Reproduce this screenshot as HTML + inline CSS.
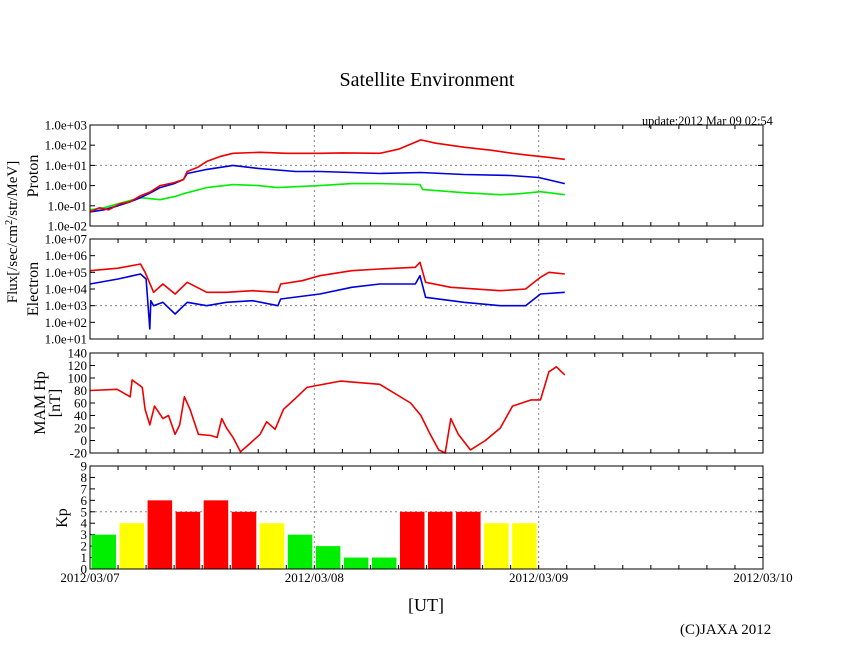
<!DOCTYPE html>
<html><head><meta charset="utf-8">
<style>
html,body{margin:0;padding:0;background:#fff;}
svg{display:block;font-family:"Liberation Serif",serif;}
</style></head>
<body>
<svg id="c" width="846" height="655" viewBox="0 0 846 655" xmlns="http://www.w3.org/2000/svg">
<text x="427" y="86" font-size="20" text-anchor="middle">Satellite Environment</text>
<text x="642" y="125" font-size="12.3">update:2012 Mar 09 02:54</text>
<text transform="translate(17,232) rotate(-90)" font-size="15" text-anchor="middle">Flux[/sec/cm<tspan font-size="10" dy="-5">2</tspan><tspan dy="5">/str/MeV]</tspan></text>
<text transform="translate(38,176) rotate(-90)" font-size="16" text-anchor="middle">Proton</text>
<text transform="translate(38,289) rotate(-90)" font-size="16" text-anchor="middle">Electron</text>
<text transform="translate(45,403) rotate(-90)" font-size="16" text-anchor="middle">MAM Hp</text>
<text transform="translate(60,403) rotate(-90)" font-size="16" text-anchor="middle">[nT]</text>
<text transform="translate(67,518) rotate(-90)" font-size="16" text-anchor="middle">Kp</text>
<text x="426" y="611" font-size="18" text-anchor="middle">[UT]</text>
<text x="680" y="634" font-size="15">(C)JAXA 2012</text>
</svg>
<script>
// ---- data (hours since 2012/03/07 00:00) ----
const protonRedT=[0,1,2,3.2,4.3,5.4,6.5,7.5,9,10,10.4,11.5,12.5,14,15.3,18.2,21,24.6,27,31,33,35.4,37,40,43,45.2,47,49,50.8];
const protonRedV=[-1.3,-1.1,-1.2,-0.9,-0.8,-0.5,-0.3,0,0.15,0.3,0.7,0.9,1.2,1.45,1.6,1.65,1.6,1.6,1.62,1.6,1.8,2.26,2.1,1.9,1.75,1.6,1.5,1.4,1.3];
const protonBlueT=[0,1.5,3,4.3,5.4,6.5,7.5,9,10,10.4,12.5,15.3,18,22,24.6,28,31,35.4,40,45,48,50.8];
const protonBlueV=[-1.3,-1.2,-1.0,-0.8,-0.6,-0.35,-0.1,0.1,0.3,0.6,0.8,1.0,0.85,0.7,0.7,0.65,0.6,0.65,0.55,0.5,0.4,0.1];
const protonGreenT=[0,1.5,3,5.4,6.5,7.5,9,10,12.5,15.3,18,20,24.6,28,31,35.3,35.6,40,43.9,46,48.2,50.8];
const protonGreenV=[-1.2,-1.1,-0.9,-0.6,-0.65,-0.7,-0.55,-0.4,-0.1,0.05,0,-0.1,0,0.1,0.1,0.05,-0.2,-0.35,-0.45,-0.4,-0.3,-0.45];
const electronRedT=[0,3,5.4,5.9,6.8,7.8,9.1,10.4,12.5,14.6,17.4,20.1,20.4,22.7,24.6,28,31,34.8,35.3,35.9,38.6,43.9,46.6,48.2,49.1,50.8];
const electronRedV=[5.1,5.25,5.5,5.0,3.8,4.3,3.7,4.4,3.8,3.8,3.9,3.8,4.3,4.5,4.8,5.1,5.2,5.3,5.6,4.4,4.1,3.9,4.0,4.7,5.0,4.9];
const electronBlueT=[0,3,5.4,6.0,6.4,6.5,6.8,7.8,9.1,10.4,12.5,14.6,17.4,20.1,20.4,24.6,28,31,34.8,35.3,35.9,40,43.9,46.6,48.2,50.8];
const electronBlueV=[4.3,4.6,4.9,4.6,1.6,3.3,3.0,3.2,2.5,3.2,3.0,3.2,3.3,3.0,3.4,3.7,4.1,4.3,4.3,4.8,3.5,3.2,3.0,3.0,3.7,3.8];
const mamT=[0,2.9,4.3,4.5,5.6,5.9,6.4,6.9,7.8,8.4,9.1,9.6,10.1,10.7,11.6,12.9,13.6,14.1,14.6,15.3,16.1,17.1,18.2,18.9,19.8,20.7,21.8,23.2,26.8,31,34.3,35.4,36.4,37.3,38,38.6,39.4,40.7,42.3,43.9,45.2,47.2,48.2,49.1,49.9,50.8];
const mamV=[80,82,70,97,85,50,25,55,35,40,10,25,70,50,10,8,5,35,20,5,-18,-5,10,30,18,50,65,85,95,90,60,40,10,-15,-20,35,10,-15,0,20,55,65,65,110,118,105];
const kpValues=[3,4,6,5,6,5,4,3,2,1,1,5,5,5,4,4];
const dayLabels=["2012/03/07","2012/03/08","2012/03/09","2012/03/10"];
const protonTicks=["1.0e-02","1.0e-01","1.0e+00","1.0e+01","1.0e+02","1.0e+03"];
const electronTicks=["1.0e+01","1.0e+02","1.0e+03","1.0e+04","1.0e+05","1.0e+06","1.0e+07"];
const mamTicks=["-20","0","20","40","60","80","100","120","140"];
const kpTicks=["0","1","2","3","4","5","6","7","8","9"];

const NS="http://www.w3.org/2000/svg";
const svg=document.getElementById('c');
const X0=90,X1=763,HOURS=72;
const x=h=>X0+(X1-X0)*h/HOURS;
function el(tag,a,parent){const e=document.createElementNS(NS,tag);for(const k in a)e.setAttribute(k,a[k]);(parent||svg).appendChild(e);return e;}
const panels=[
 {name:'proton',top:125,bot:226,min:-2,max:3,ticks:protonTicks,grid:1},
 {name:'electron',top:239,bot:339,min:1,max:7,ticks:electronTicks,grid:3},
 {name:'mam',top:353,bot:453,min:-20,max:140,ticks:mamTicks,grid:null},
 {name:'kp',top:466,bot:569,min:0,max:9,ticks:kpTicks,grid:5}
];
panels.forEach(p=>{p.y=v=>p.bot-(p.bot-p.top)*(v-p.min)/(p.max-p.min);});
panels.forEach(p=>{
 const g=el('g',{});
 
 
 [24,48].forEach(h=>el('line',{x1:x(h),x2:x(h),y1:p.top,y2:p.bot,stroke:'#888','stroke-dasharray':'2,3','stroke-width':1},g));
 if(p.grid!==null) el('line',{x1:X0,x2:X1,y1:p.y(p.grid),y2:p.y(p.grid),stroke:'#888','stroke-dasharray':'2,3','stroke-width':1},g);
 for(let h=3;h<HOURS;h+=3){el('line',{x1:x(h),x2:x(h),y1:p.top,y2:p.top+4,stroke:'#000'},g);el('line',{x1:x(h),x2:x(h),y1:p.bot,y2:p.bot-4,stroke:'#000'},g);}
 const n=p.ticks.length;
 p.ticks.forEach((t,i)=>{
  const v=p.min+(p.max-p.min)*i/(n-1),yy=p.y(v);
  el('line',{x1:X0,x2:X0+5,y1:yy,y2:yy,stroke:'#000'},g);
  el('line',{x1:X1,x2:X1-5,y1:yy,y2:yy,stroke:'#000'},g);
  const tx=el('text',{x:X0-3,y:yy+4.5,'font-size':13,'text-anchor':'end'},g);tx.textContent=t;
  
  
 });
 p.g=g;
});
function line(p,T,V,color,name){
 const pts=T.map((t,i)=>x(t).toFixed(1)+','+p.y(V[i]).toFixed(1)).join(' ');
 const e=el('polyline',{points:pts,fill:'none',stroke:color,'stroke-width':1.6,'stroke-linejoin':'round'},p.g);
 
 
}
line(panels[0],protonGreenT,protonGreenV,'#00ee00','proton-green-series');
line(panels[0],protonBlueT,protonBlueV,'#0000dd','proton-blue-series');
line(panels[0],protonRedT,protonRedV,'#ee0000','proton-red-series');
line(panels[1],electronRedT,electronRedV,'#ee0000','electron-red-series');
line(panels[1],electronBlueT,electronBlueV,'#0000dd','electron-blue-series');
line(panels[2],mamT,mamV,'#ee0000','mam-hp-series');
const kp=panels[3];
kpValues.forEach((v,i)=>{
 const c=v>=5?'#ff0000':(v>=4?'#ffff00':'#00ee00');
 const r=el('rect',{x:x(i*3)+1.5,y:kp.y(v),width:x(3)-x(0)-3.5,height:kp.bot-kp.y(v),fill:c},kp.g);
 
 
});
panels.forEach(p=>el('rect',{x:X0,y:p.top,width:X1-X0,height:p.bot-p.top,fill:'none',stroke:'#000','stroke-width':1},p.g));
dayLabels.forEach((d,i)=>{
 const t=el('text',{x:x(i*24),y:582,'font-size':13,'text-anchor':'middle'});t.textContent=d;
 
 
});
</script>
</body></html>
